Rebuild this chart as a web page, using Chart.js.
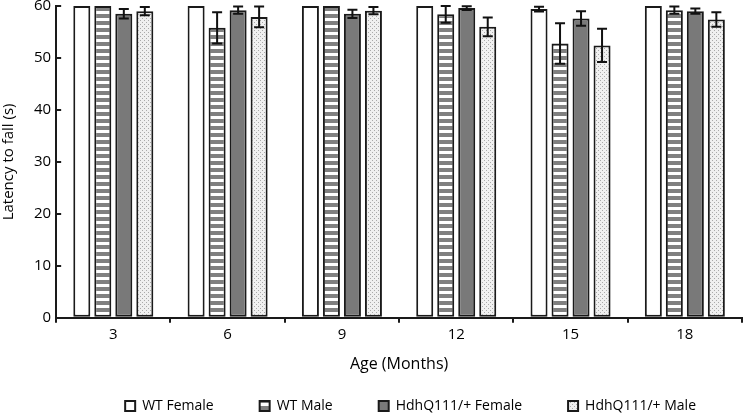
<!DOCTYPE html>
<html>
<head>
<meta charset="utf-8">
<script src="https://cdn.jsdelivr.net/npm/chart.js@4/dist/chart.umd.min.js"></script>
<style>
  html, body { margin: 0; padding: 0; background: #fff; }
  #wrap { width: 744px; height: 413px; }
</style>
</head>
<body>
<div id="wrap"><canvas id="rotarodChart"></canvas></div>
<script>
  const ages = ['3', '6', '9', '12', '15', '18'];
  const seriesNames = ['WT Female', 'WT Male', 'HdhQ111/+ Female', 'HdhQ111/+ Male'];

  const wtFemale = [60, 60, 60, 60, 59.4, 60];
  const wtMale = [60, 55.8, 60, 58.4, 52.8, 59.2];
  const hdhFemale = [58.5, 59.2, 58.5, 59.6, 57.6, 59.0];
  const hdhMale = [59.0, 57.9, 59.1, 56.0, 52.4, 57.4];

  const wtFemaleErr = [0, 0, 0, 0, 0.45, 0];
  const wtMaleErr = [0, 3.0, 0, 1.6, 3.9, 0.7];
  const hdhFemaleErr = [0.9, 0.7, 0.8, 0.35, 1.4, 0.5];
  const hdhMaleErr = [0.8, 2.0, 0.7, 1.8, 3.2, 1.4];

  const yTicks = [0, 10, 20, 30, 40, 50, 60];

  const font = "'Open Sans', 'DejaVu Sans', sans-serif";

  function makePattern(size, draw) {
    const c = document.createElement('canvas');
    c.width = size;
    c.height = size;
    const g = c.getContext('2d');
    draw(g);
    return g.createPattern(c, 'repeat');
  }

  const stripes = makePattern(7, function(g) {
    g.fillStyle = '#ffffff';
    g.fillRect(0, 0, 7, 7);
    g.fillStyle = '#808080';
    g.fillRect(0, 0, 7, 4);
  });

  const dots = makePattern(4, function(g) {
    g.fillStyle = '#f0f0f0';
    g.fillRect(0, 0, 4, 4);
    g.fillStyle = '#aaaaaa';
    g.fillRect(0, 0, 1, 1);
    g.fillRect(2, 2, 1, 1);
  });

  // draws the +/- error whiskers on top of each bar
  const errorBars = {
    id: 'errorBars',
    afterDatasetsDraw(chart) {
      const ctx = chart.ctx;
      const yScale = chart.scales.y;
      ctx.save();
      ctx.strokeStyle = '#111';
      ctx.lineWidth = 2;
      chart.data.datasets.forEach((ds, i) => {
        const meta = chart.getDatasetMeta(i);
        meta.data.forEach((bar, j) => {
          const err = ds.errors[j];
          if (!err) return;
          const v = ds.data[j];
          const top = yScale.getPixelForValue(v + err);
          const bottom = yScale.getPixelForValue(v - err);
          const half = 5;
          ctx.beginPath();
          ctx.moveTo(bar.x, top);
          ctx.lineTo(bar.x, bottom);
          ctx.moveTo(bar.x - half, top);
          ctx.lineTo(bar.x + half, top);
          ctx.moveTo(bar.x - half, bottom);
          ctx.lineTo(bar.x + half, bottom);
          ctx.stroke();
        });
      });
      ctx.restore();
    }
  };

  const fills = ['#ffffff', stripes, '#797979', dots];
  const values = [wtFemale, wtMale, hdhFemale, hdhMale];
  const errors = [wtFemaleErr, wtMaleErr, hdhFemaleErr, hdhMaleErr];

  const datasets = seriesNames.map((name, i) => ({
    label: name,
    data: values[i],
    errors: errors[i],
    backgroundColor: fills[i],
    borderColor: '#1a1a1a',
    borderWidth: 2,
    borderSkipped: false,
    categoryPercentage: 0.735,
    barPercentage: 0.81
  }));

  const ctx = document.getElementById('rotarodChart').getContext('2d');
  new Chart(ctx, {
    type: 'bar',
    data: {
      labels: ages,
      datasets: datasets
    },
    plugins: [errorBars],
    options: {
      responsive: true,
      maintainAspectRatio: false,
      animation: false,
      layout: {
        padding: { left: 0, right: 2, top: 0, bottom: -10 }
      },
      scales: {
        x: {
          grid: {
            display: true,
            drawOnChartArea: false,
            drawTicks: true,
            tickLength: 5,
            color: '#1a1a1a',
            lineWidth: 2
          },
          border: { color: '#1a1a1a', width: 2 },
          ticks: {
            color: '#000',
            padding: 3,
            font: { family: font, size: 15 }
          },
          title: {
            display: true,
            text: 'Age (Months)',
            color: '#000',
            padding: { top: 8, bottom: -21 },
            font: { family: font, size: 16 }
          }
        },
        y: {
          min: 0,
          max: 60,
          afterBuildTicks: function(axis) {
            axis.ticks = yTicks.map(v => ({ value: v }));
          },
          afterFit: function(axis) {
            axis.paddingTop = 6;
          },
          grid: {
            display: true,
            drawOnChartArea: false,
            drawTicks: true,
            tickLength: -5,
            color: '#1a1a1a',
            lineWidth: 2
          },
          border: { color: '#1a1a1a', width: 2 },
          ticks: {
            color: '#000',
            padding: 10,
            font: { family: font, size: 15 }
          },
          title: {
            display: true,
            text: 'Latency to fall (s)',
            color: '#000',
            padding: { top: 0, bottom: 6 },
            font: { family: font, size: 15 }
          }
        }
      },
      plugins: {
        legend: {
          position: 'bottom',
          align: 'end',
          fullSize: false,
          labels: {
            boxWidth: 10,
            boxHeight: 10,
            padding: 46,
            color: '#000',
            font: { family: font, size: 14 }
          }
        },
        tooltip: { enabled: false }
      }
    }
  });
</script>
</body>
</html>
